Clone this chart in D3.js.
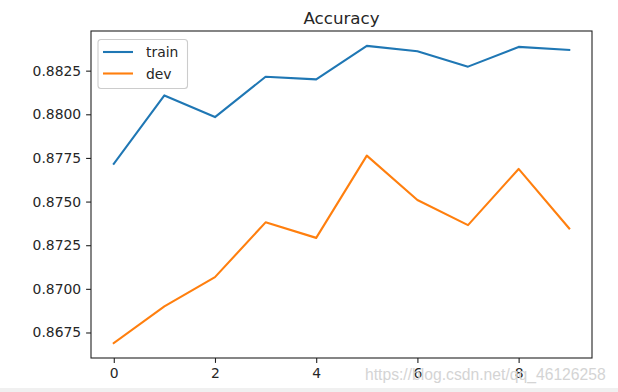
<!doctype html>
<html>
  <head>
    <script src="https://cdnjs.cloudflare.com/ajax/libs/d3/7.8.5/d3.min.js"></script>
    <style>
      body { margin: 0; background: #fff; }
      svg { display: block; font-family: "DejaVu Sans", sans-serif; }
    </style>
  </head>
  <body>
    <svg width="618" height="392"></svg>

    <script>
        // values
        var epochs = [0, 1, 2, 3, 4, 5, 6, 7, 8, 9];
        var trainAcc = [0.87716, 0.88108, 0.87984, 0.88215, 0.88200, 0.88392, 0.88361, 0.88273, 0.88386, 0.88369];
        var devAcc = [0.86689, 0.86900, 0.87067, 0.87381, 0.87292, 0.87763, 0.87509, 0.87365, 0.87687, 0.87346];
        var xTicks = [0, 2, 4, 6, 8];
        var yTicks = [0.8675, 0.8700, 0.8725, 0.8750, 0.8775, 0.8800, 0.8825];
        var seriesNames = ["train", "dev"];
        var seriesColors = ["#1f77b4", "#ff7f0e"];

        var svg = d3.select("svg");
        var plotLeft = 91, plotRight = 592, plotTop = 31, plotBottom = 358;

        // matplotlib style 5% margins
        var xPad = (d3.max(epochs) - d3.min(epochs)) * 0.05;
        var x = d3.scaleLinear()
            .domain([d3.min(epochs) - xPad, d3.max(epochs) + xPad])
            .range([plotLeft, plotRight]);

        var ext = d3.extent(trainAcc.concat(devAcc));
        var yPad = (ext[1] - ext[0]) * 0.05;
        var y = d3.scaleLinear()
            .domain([ext[0] - yPad, ext[1] + yPad])
            .range([plotBottom, plotTop]);

        // faint grey strip at the very bottom of the screenshot
        svg.append("rect").attr("x", 0).attr("y", 388).attr("width", 618).attr("height", 4).attr("fill", "#f0f0f0");

        var line = d3.line()
            .x((d, i) => x(epochs[i]))
            .y(d => y(d));

        [trainAcc, devAcc].forEach((s, k) => {
            svg.append("path")
                .datum(s)
                .attr("d", line)
                .attr("fill", "none")
                .attr("stroke", seriesColors[k])
                .attr("stroke-width", 2.1)
                .attr("stroke-linejoin", "round")
                .attr("stroke-linecap", "square");
        });

        var xAxis = svg.append("g")
            .attr("transform", "translate(0," + plotBottom + ")")
            .call(d3.axisBottom(x).tickValues(xTicks).tickFormat(d3.format("d")).tickSize(4.9).tickPadding(4.9));
        var yAxis = svg.append("g")
            .attr("transform", "translate(" + plotLeft + ",0)")
            .call(d3.axisLeft(y).tickValues(yTicks).tickFormat(d3.format(".4f")).tickSize(4.9).tickPadding(4.9));

        [xAxis, yAxis].forEach(g => {
            g.select(".domain").remove();
            g.selectAll("line").attr("stroke", "#222").attr("stroke-width", 1.1);
            g.selectAll("text").attr("fill", "#262626").style("font-size", "13.9px").attr("font-family", "DejaVu Sans");
        });

        // axes frame
        svg.append("rect")
            .attr("x", plotLeft).attr("y", plotTop)
            .attr("width", plotRight - plotLeft).attr("height", plotBottom - plotTop)
            .attr("fill", "none").attr("stroke", "#222").attr("stroke-width", 1.1);

        // title
        svg.append("text")
            .attr("x", (plotLeft + plotRight) / 2).attr("y", 24)
            .attr("text-anchor", "middle")
            .attr("fill", "#262626")
            .style("font-size", "16.7px")
            .text("Accuracy");

        // legend
        var lg = svg.append("g").attr("transform", "translate(98,39.5)");
        lg.append("rect")
            .attr("width", 89.5).attr("height", 49)
            .attr("rx", 3).attr("ry", 3)
            .attr("fill", "#fff").attr("fill-opacity", 0.8)
            .attr("stroke", "#ccc").attr("stroke-width", 1.1);
        seriesNames.forEach((name, i) => {
            var yy = 12.5 + i * 21.5;
            lg.append("line")
                .attr("x1", 5).attr("x2", 35).attr("y1", yy).attr("y2", yy)
                .attr("stroke", seriesColors[i]).attr("stroke-width", 2.1);
            lg.append("text")
                .attr("x", 48).attr("y", yy + 5)
                .attr("fill", "#262626")
                .style("font-size", "13.9px")
                .text(name);
        });

        // watermark
        svg.append("text")
            .attr("x", 365).attr("y", 380)
            .attr("fill", "#d4d4d4")
            .attr("font-family", "Liberation Sans, Arial, sans-serif")
            .style("font-size", "15.7px")
            .text("https://blog.csdn.net/qq_46126258");
    </script>
  </body>
</html>
